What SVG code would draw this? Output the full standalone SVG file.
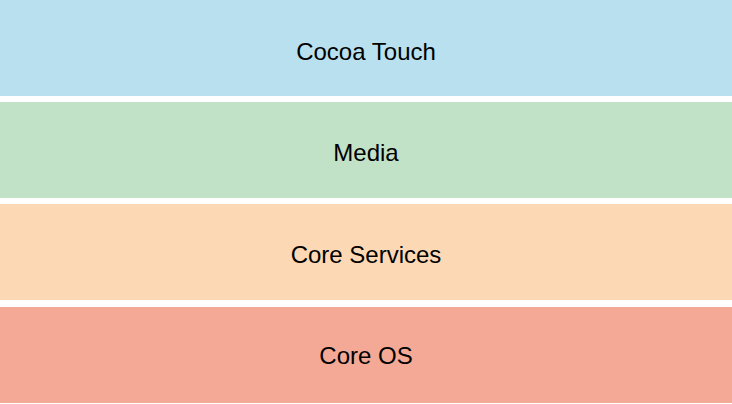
<svg xmlns="http://www.w3.org/2000/svg" width="732" height="404" viewBox="0 0 732 404">
<style>
text{font-family:"Liberation Sans",Arial,Helvetica,sans-serif;font-size:24px;fill:#000;text-anchor:middle}
</style>
<rect x="0" y="0" width="732" height="404" fill="#ffffff"/>
<g id="cocoa-touch"><rect x="0" y="0" width="732" height="96" fill="#B9E0EE"/><text x="366" y="60">Cocoa Touch</text></g>
<g id="media"><rect x="0" y="102" width="732" height="96" fill="#C2E2C7"/><text x="366" y="161">Media</text></g>
<g id="core-services"><rect x="0" y="204" width="732" height="96" fill="#FCD9B4"/><text x="366" y="263">Core Services</text></g>
<g id="core-os"><rect x="0" y="307" width="732" height="96" fill="#F4A996"/><text x="366" y="364">Core OS</text></g>
<g id="connectors"/>
</svg>
